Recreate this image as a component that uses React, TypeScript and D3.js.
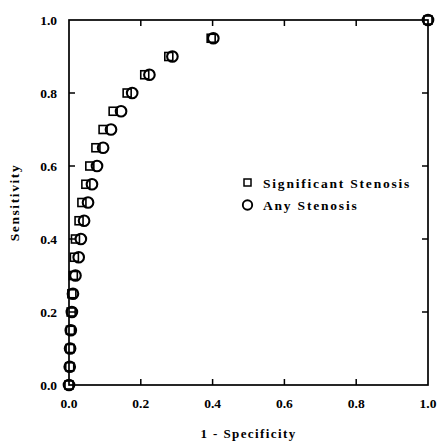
import React from "react";
import * as d3 from "d3";

const sensitivity = [0, 0.05, 0.1, 0.15, 0.2, 0.25, 0.3, 0.35, 0.4, 0.45, 0.5, 0.55, 0.6, 0.65, 0.7, 0.75, 0.8, 0.85, 0.9, 0.95, 1.0];
const significantFpr = [0, 0.002, 0.003, 0.004, 0.006, 0.008, 0.012, 0.015, 0.018, 0.028, 0.036, 0.047, 0.058, 0.075, 0.095, 0.123, 0.162, 0.211, 0.278, 0.396, 1.0];
const anyFpr = [0, 0.002, 0.003, 0.005, 0.008, 0.011, 0.018, 0.027, 0.033, 0.042, 0.053, 0.064, 0.078, 0.095, 0.117, 0.145, 0.176, 0.224, 0.288, 0.402, 1.0];
const ticks = [0, 0.2, 0.4, 0.6, 0.8, 1.0];
const tickLabels = ["0.0", "0.2", "0.4", "0.6", "0.8", "1.0"];
const legendLabels = ["Significant Stenosis", "Any Stenosis"];

export default function App() {
  const W = 437, H = 443;
  const x = d3.scaleLinear().domain([0, 1]).range([69, 428]);
  const y = d3.scaleLinear().domain([0, 1]).range([385, 20]);
  const font = "'Liberation Serif', 'Times New Roman', serif";
  const tl = 6;
  return (
    <svg width={W} height={H} style={{ position: "absolute", left: 0, top: 0, background: "#fff" }}>
      <g fill="none" stroke="#000">
        <rect x={x(0)} y={y(1)} width={x(1) - x(0)} height={y(0) - y(1)} strokeWidth={1.7} />
        {ticks.slice(1, 5).map((t, i) => (
          <g key={i} strokeWidth={1.5}>
            <line x1={x(t)} x2={x(t)} y1={y(0)} y2={y(0) - tl} />
            <line x1={x(t)} x2={x(t)} y1={y(1)} y2={y(1) + tl} />
            <line y1={y(t)} y2={y(t)} x1={x(0)} x2={x(0) + tl} />
            <line y1={y(t)} y2={y(t)} x1={x(1)} x2={x(1) - tl} />
          </g>
        ))}
      </g>
      <g fontFamily={font} fontWeight="bold" fontSize={13.5} fill="#000">
        {ticks.map((t, i) => (
          <text key={"x" + i} x={x(t)} y={y(0) + 23} textAnchor="middle">{tickLabels[i]}</text>
        ))}
        {ticks.map((t, i) => (
          <text key={"y" + i} x={57} y={y(t) + 4.5} textAnchor="end">{tickLabels[i]}</text>
        ))}
        <text x={x(0.5)} y={438} textAnchor="middle" fontSize={13} letterSpacing={1.4}>1  -  Specificity</text>
        <text transform={`translate(19, ${y(0.5)}) rotate(-90)`} textAnchor="middle" fontSize={13.5} letterSpacing={1.6}>Sensitivity</text>
        <text x={263} y={188} fontSize={13.5} letterSpacing={1.8}>{legendLabels[0]}</text>
        <text x={263} y={210} fontSize={13.5} letterSpacing={1.8}>{legendLabels[1]}</text>
      </g>
      <g fill="none" stroke="#000">
        {sensitivity.map((s, i) => (
          <rect key={"s" + i} x={x(significantFpr[i]) - 4} y={y(s) - 4} width={8} height={8} strokeWidth={1.6} />
        ))}
        {sensitivity.map((s, i) => (
          <circle key={"c" + i} cx={x(anyFpr[i])} cy={y(s)} r={5.3} strokeWidth={2.1} />
        ))}
        <rect x={244} y={179} width={7} height={7} strokeWidth={1.5} />
        <circle cx={247.5} cy={205} r={4.7} strokeWidth={1.9} />
      </g>
    </svg>
  );
}
